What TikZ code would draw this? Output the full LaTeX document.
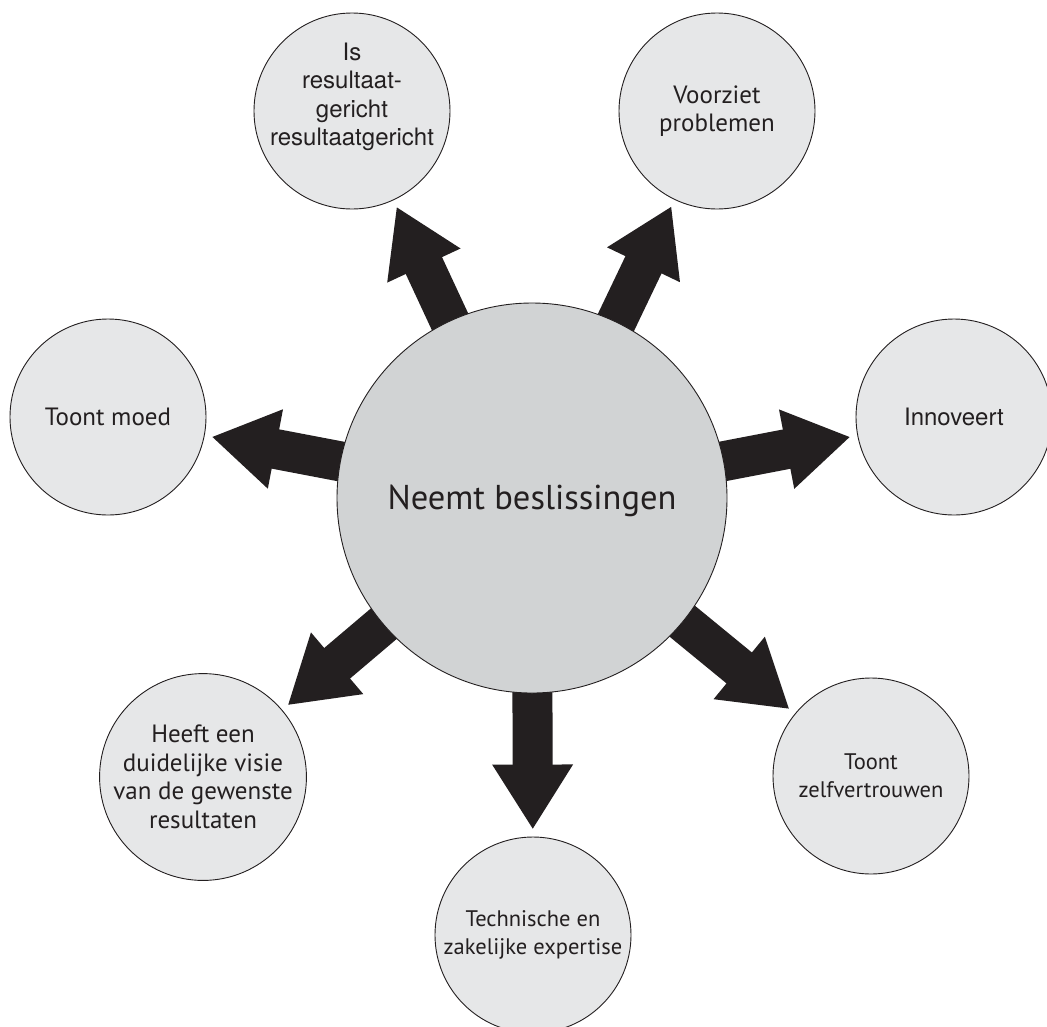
\documentclass[tikz,border=0pt]{standalone}
\usepackage{fontspec}
\setmainfont{PT Sans}
\newfontfamily\helv{TeX Gyre Heros}
\usetikzlibrary{arrows.meta,backgrounds}
\definecolor{ink}{HTML}{231F20}
\definecolor{outerfill}{HTML}{E6E7E8}
\definecolor{hubfill}{HTML}{D1D3D4}
\begin{document}
\begin{tikzpicture}[x=1pt,y=-1pt,
  bubble/.style={circle, draw=ink, line width=0.9pt, fill=outerfill,
    minimum size=196pt, inner sep=0pt, align=center, text=ink,
    font=\fontsize{25}{28.5}\selectfont},
  narrowtext/.style={font=\fontsize{22.5}{28}\selectfont},
  hub/.style={circle, draw=ink, line width=0.9pt, fill=hubfill,
    minimum size=390pt, inner sep=0pt, text=ink,
    font=\fontsize{34.5}{40}\selectfont},
  fatarrow/.style={draw=ink, line width=40pt,
    -{Triangle[length=65pt,width=76pt]}, shorten >=7pt}]
\useasboundingbox (0,0) rectangle (1047,1026);

% central circle and the seven surrounding qualities
\node[hub, text depth=2pt] (hub) at (532,498) {Neemt beslissingen};
\node[bubble, label={[shift={(0,-14)}, align=center, text=ink,
    font=\helv\fontsize{24}{28.5}\selectfont]center:Is\\resultaat-\\gericht\\resultaatgericht}]
  (res) at (352,111) {};
\node[bubble] (vrz) at (717,111) {Voorziet\\problemen};
\node[bubble] (moed) at (108,417) {Toont moed};
\node[bubble, font=\helv\fontsize{24}{28}\selectfont] (inn) at (954,417) {Innoveert};
\node[bubble] (visie) at (203,777) {Heeft een\\duidelijke visie\\van de gewenste\\resultaten};
\node[bubble, narrowtext] (zelf) at (871,776) {Toont\\zelfvertrouwen};
\node[bubble, narrowtext] (tech) at (533,935) {Technische en\\zakelijke expertise};

% thick arrows radiating from behind the central circle
\begin{scope}[on background layer]
  \foreach \t in {res,vrz,moed,inn,visie,zelf,tech}
    \draw[fatarrow] (hub.center) -- (\t);
\end{scope}
\end{tikzpicture}
\end{document}
